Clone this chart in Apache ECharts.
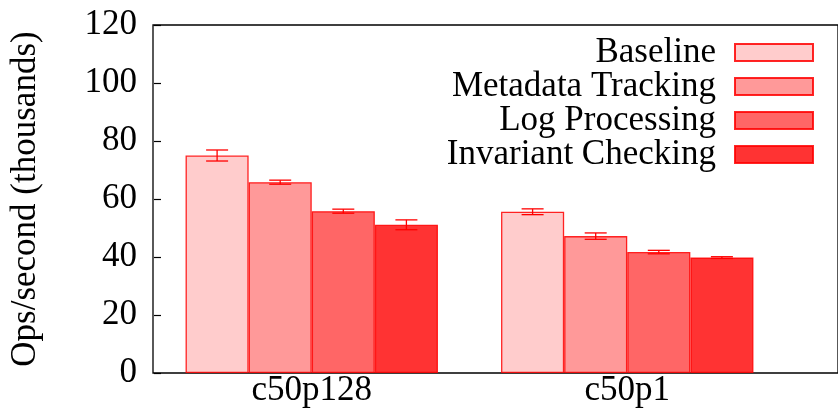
<!DOCTYPE html>
<html><head><meta charset="utf-8">
<script src="https://cdn.jsdelivr.net/npm/echarts@6/dist/echarts.min.js"></script>
<style>html,body{margin:0;padding:0;background:#fff}#c{width:838px;height:409px}</style>
</head><body><div id="c"></div>
<script>
var categories = ['c50p128', 'c50p1'];
var seriesNames = ['Baseline', 'Metadata Tracking', 'Log Processing', 'Invariant Checking'];
var baseline = [75.0, 55.6];
var metadata = [65.8, 47.2];
var logProc = [55.8, 41.7];
var invariant = [51.1, 39.8];
var baselineErr = [1.9, 1.0];
var metadataErr = [0.7, 1.1];
var logProcErr = [0.7, 0.6];
var invariantErr = [1.7, 0.3];
var yTicks = [0, 20, 40, 60, 80, 100, 120];

var colors = ['#ffcccc', '#ff9999', '#ff6666', '#ff3333'];
var values = [baseline, metadata, logProc, invariant];
var errs = [baselineErr, metadataErr, logProcErr, invariantErr];
var FONT = '"Liberation Serif", "DejaVu Serif", serif';
var FS = 35;
var BARFRAC = 0.2;

var series = [];
values.forEach(function (v, i) {
  series.push({
    name: seriesNames[i], type: 'bar', data: v, barWidth: (BARFRAC * 100) + '%', barGap: '0%',
    itemStyle: { color: colors[i], borderColor: 'rgba(255,0,0,0.85)', borderWidth: 1.3 },
    xAxisIndex: 0, yAxisIndex: 0, z: 2
  });
});
values.forEach(function (v, i) {
  var d = v.map(function (val, k) { return [k, val, errs[i][k]]; });
  series.push({
    type: 'custom', data: d, xAxisIndex: 0, yAxisIndex: 0, z: 5, silent: true,
    renderItem: function (params, api) {
      var k = api.value(0), val = api.value(1), e = api.value(2);
      var band = api.size([1, 0])[0];
      var c = api.coord([k, val]);
      var x = c[0] + (i - 1.5) * BARFRAC * band;
      var yt = api.coord([k, val + e])[1];
      var yb = api.coord([k, val - e])[1];
      var hw = 11;
      var st = { stroke: '#ff0000', lineWidth: 1.3 };
      return { type: 'group', children: [
        { type: 'line', shape: { x1: x, y1: yt, x2: x, y2: yb }, style: st },
        { type: 'line', shape: { x1: x - hw, y1: yt, x2: x + hw, y2: yt }, style: st },
        { type: 'line', shape: { x1: x - hw, y1: yb, x2: x + hw, y2: yb }, style: st }
      ]};
    }
  });
});

var chart = echarts.init(document.getElementById('c'), null, { renderer: 'canvas' });
chart.setOption({
  animation: false,
  backgroundColor: '#fff',
  textStyle: { fontFamily: FONT },
  grid: [
    { left: 153, top: 25, width: 632, height: 348 },
    { left: 153, top: 25, right: -20, height: 348, show: true, borderColor: '#000', borderWidth: 1.3, backgroundColor: 'transparent', z: 0 }
  ],
  legend: {
    data: seriesNames, orient: 'vertical', right: 19, top: 30, align: 'right',
    icon: 'rect', itemWidth: 78, itemHeight: 17, itemGap: -1,
    textStyle: { fontFamily: FONT, fontSize: FS, lineHeight: 34, color: '#000', padding: [0, 14, 0, 0] },
    selectedMode: false
  },
  xAxis: [
    { type: 'category', data: categories, gridIndex: 0,
      axisLine: { show: false }, axisTick: { show: false },
      axisLabel: { fontFamily: FONT, fontSize: FS, color: '#000', margin: 0 },
      splitLine: { show: false } },
    { type: 'value', gridIndex: 1, show: false }
  ],
  yAxis: [
    { type: 'value', gridIndex: 0, min: 0, max: 120, interval: 20,
      name: 'Ops/second (thousands)', nameLocation: 'middle', nameGap: 111,
      nameTextStyle: { fontFamily: FONT, fontSize: FS, color: '#000' },
      axisLine: { show: false },
      axisTick: { show: true, inside: true, length: 7, lineStyle: { color: '#000', width: 1.2 } },
      axisLabel: { fontFamily: FONT, fontSize: FS, color: '#000', margin: 17,
        formatter: function (v) { return yTicks.indexOf(v) >= 0 ? String(v) : ''; } },
      splitLine: { show: false } },
    { type: 'value', gridIndex: 1, show: false }
  ],
  series: series
});
</script></body></html>
